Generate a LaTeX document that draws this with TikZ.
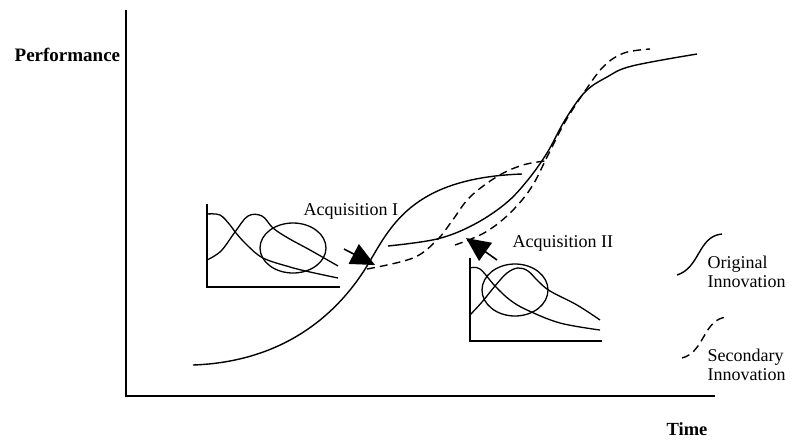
\documentclass[tikz,border=0pt]{standalone}
\usepackage{fontspec}
\setmainfont{Liberation Serif}
\usetikzlibrary{arrows.meta}
\begin{document}
\begin{tikzpicture}[x=1pt, y=-1pt, line width=1.3pt,
  orig/.style={line width=1.4pt},
  sec/.style={line width=1.4pt, dash pattern=on 8pt off 5pt},
  acq/.style={-{Triangle[length=24pt,width=22pt]}, line width=1.6pt},
  lab/.style={inner sep=0pt, anchor=base west, font=\fontsize{18}{19}\selectfont}]
\useasboundingbox (0,0) rectangle (792,440);
% axes
\coordinate (O) at (126,396);
\draw (126,10)--(O)--(715,396);
\node[lab, font=\fontsize{19}{19}\selectfont\bfseries] (perf) at (14,61) {Performance};
\node[lab, font=\fontsize{18.5}{19}\selectfont\bfseries] (time) at (666,435) {Time};
% original innovation
\draw[orig] (193,365) .. controls (280,362) and (335,318) .. (367,266)
  .. controls (390,228) and (410,178) .. (522,174);
\draw[orig] plot[smooth, tension=.6] coordinates {(388,246)(437,239)(473,225)(505,204)(527,181)(547,153)(565,120)(585,92)(607,77)(632,66)(697,54)};
% secondary innovation
\draw[sec] plot[smooth, tension=.6] coordinates {(367,269)(413,258)(437,240)(452,221)(470,197)(498,176)(523,165)(545,161)};
\draw[sec] plot[smooth, tension=.6] coordinates {(455,245)(484,233)(509,214)(531,188)(548,155)(565,122)(585,91)(604,66)(624,53)(650,49)};
% acquisitions
\coordinate (a1s) at (344,249); \coordinate (a1t) at (375,265);
\coordinate (a2s) at (497,260); \coordinate (a2t) at (466,238);
\draw[acq] (a1s)--(a1t);
\draw[acq] (a2s)--(a2t);
\node[lab] (acq1) at (303,215) {Acquisition I};
\node[lab] (acq2) at (512,247) {Acquisition II};
% inset I
\draw (207,204)--(207,287)--(340,287);
\draw plot[smooth, tension=.6] coordinates {(207,214)(220,215)(230,225)(236,233)(247,245)(263,258)(290,267)(310,272)(338,278)};
\draw plot[smooth, tension=.6] coordinates {(207,260)(221,251)(235,232)(248,216)(262,216)(273,228)(288,238)(310,250)(338,266)};
\draw (293,248) ellipse (33 and 25);
% inset II
\draw (470,258)--(470,341)--(602,341);
\draw plot[smooth, tension=.6] coordinates {(470,268)(480,269)(495,286)(510,300)(527,310)(560,323)(600,330)};
\draw plot[smooth, tension=.6] coordinates {(470,315)(482,302)(495,286)(507,273)(518,268)(528,271)(538,281)(550,291)(577,305)(600,320)};
\draw (515,290) ellipse (33 and 26);
% legend
\draw[orig] (677,275) .. controls (700,268) and (698,236) .. (722,234);
\draw[sec] (682,358) .. controls (705,352) and (703,319) .. (727,317);
\node[lab, align=left] (leg1) at (707,287) {Original\\Innovation};
\node[lab, align=left] (leg2) at (707,380) {Secondary\\Innovation};
\end{tikzpicture}
\end{document}
